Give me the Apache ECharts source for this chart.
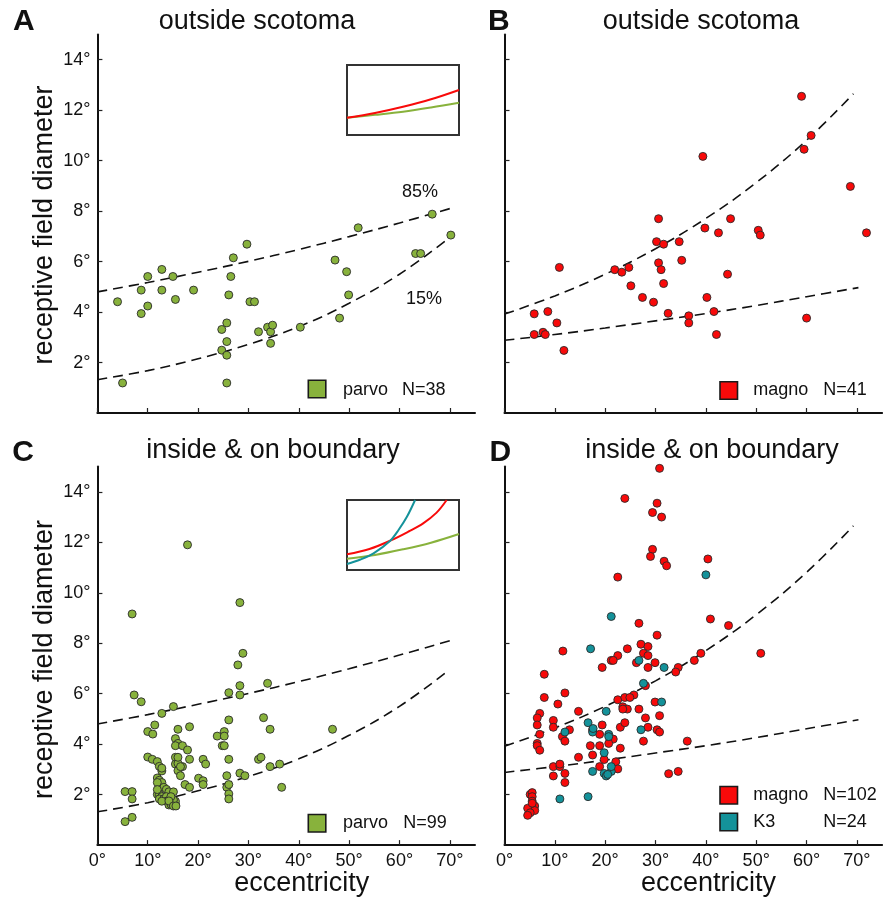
<!DOCTYPE html>
<html>
<head>
<meta charset="utf-8">
<script src="https://cdn.jsdelivr.net/npm/echarts@6/dist/echarts.min.js"></script>
<style>html,body{margin:0;padding:0;background:#fff}#c{width:896px;height:900px}</style>
</head>
<body>
<div id="c"></div>
<script>
// ---------- data ----------
var xTickValues = [0, 10, 20, 30, 40, 50, 60, 70];
var yTickValues = [2, 4, 6, 8, 10, 12, 14];

var parvoOutside = [
 [4.0,4.41],[5.0,1.19],[8.7,4.87],[8.7,3.94],[10.0,5.41],[10.0,4.24],[12.8,5.69],[12.8,4.87],
 [15.0,5.41],[15.5,4.50],[19.1,4.87],[24.7,3.31],[24.7,2.49],[25.7,3.57],[25.7,2.83],[25.7,2.29],
 [25.7,1.19],[26.1,4.68],[26.5,5.41],[27.0,6.15],[29.7,6.69],[30.3,4.41],[31.2,4.41],[32.0,3.22],
 [33.8,3.40],[34.4,3.22],[34.8,3.48],[34.4,2.76],[40.3,3.40],[47.2,6.06],[48.1,3.76],[49.5,5.60],
 [49.9,4.68],[51.8,7.34],[63.2,6.32],[64.2,6.32],[66.5,7.88],[70.2,7.05]
];
var magnoOutside = [
 [5.9,3.93],[5.9,3.11],[7.65,3.20],[8.1,3.11],[8.6,4.02],[10.4,3.57],[10.9,5.77],[11.8,2.48],
 [21.9,5.68],[23.3,5.58],[24.7,5.77],[25.1,5.04],[27.4,4.58],[29.6,4.39],[30.2,6.79],[30.6,7.70],
 [30.6,5.95],[31.1,5.68],[31.6,6.69],[31.6,5.13],[32.5,3.95],[34.7,6.79],[35.2,6.05],[36.6,3.85],
 [36.6,3.57],[39.4,10.17],[39.8,7.33],[40.2,4.58],[41.6,4.02],[42.1,3.11],[42.5,7.14],[44.3,5.50],
 [44.9,7.70],[50.4,7.24],[50.8,7.05],[59.0,12.55],[59.5,10.45],[60.0,3.76],[60.9,11.0],[68.7,8.98],
 [71.9,7.14]
];
var parvoInside = [
 [5.5,2.12],[6.9,2.12],[6.9,1.83],[5.5,0.93],[6.9,1.10],[6.9,9.16],[7.3,5.95],[8.7,5.68],[10.0,4.50],
 [11.0,4.40],[11.4,4.76],[12.8,5.22],[15.1,5.49],[16.0,4.59],[15.5,4.22],[16.0,4.03],[15.5,3.94],
 [16.9,3.94],[17.9,3.77],[18.3,4.69],[17.9,11.90],[15.5,3.48],[15.5,3.21],[16.9,3.11],[16.0,2.95],
 [16.5,2.75],[17.4,2.40],[18.3,2.29],[18.3,3.40],[20.1,2.65],[21.0,2.55],[21.0,2.40],[21.0,3.40],
 [21.5,3.21],[23.8,4.32],[25.2,4.50],[25.2,4.32],[24.8,3.94],[25.2,3.94],[26.1,4.96],[26.1,6.04],
 [26.1,3.40],[25.7,2.75],[25.7,2.29],[26.1,2.40],[26.1,2.03],[26.1,1.83],[28.3,9.61],[28.9,7.60],
 [27.9,7.14],[28.3,6.32],[28.3,5.95],[28.3,2.85],[29.3,2.75],[33.0,5.05],[33.8,6.41],[34.3,4.59],
 [32.0,3.40],[32.5,3.48],[34.3,3.11],[36.2,3.21],[36.6,2.29],[46.7,4.59],
 [10.0,3.49],[10.9,3.40],[11.9,3.31],[12.3,3.12],[12.8,2.94],[11.9,2.66],[12.3,2.57],[12.8,2.48],
 [11.9,2.48],[13.2,2.29],[13.7,2.21],[14.2,2.11],[15.1,2.11],[11.9,2.01],[12.3,2.01],[12.8,1.92],
 [12.3,1.83],[13.2,1.83],[13.7,1.92],[13.7,1.74],[14.2,1.59],[14.6,1.62],[15.1,1.66],[15.5,1.62],
 [15.5,1.74],[15.1,1.79],[16.0,3.24],[16.5,3.11],[12.8,1.74],[14.6,1.92],[16.0,3.48],[12.8,3.05],
 [14.2,1.75],[11.9,2.20],[15.1,1.55],[15.6,1.55]
];
var magnoInside = [
 [30.8,14.93],[23.9,13.74],[30.3,13.55],[29.4,13.18],[31.2,13.0],[29.4,11.72],[29.0,11.44],[31.7,11.25],
 [32.2,11.07],[40.4,11.34],[22.5,10.62],[40.9,8.96],[44.5,8.70],[26.7,8.79],[30.3,8.32],[50.9,7.60],
 [11.6,7.69],[24.4,7.78],[27.1,7.96],[28.5,7.87],[27.6,7.60],[28.5,7.51],[22.5,7.51],[21.2,7.32],
 [21.6,7.32],[26.2,7.23],[29.9,7.23],[19.4,7.04],[28.5,7.04],[34.5,7.04],[34.0,6.86],[37.7,7.32],
 [39.0,7.60],[7.9,6.77],[28.0,6.32],[7.9,5.85],[12.0,6.03],[10.6,5.59],[14.7,5.30],[7.0,5.22],
 [6.5,5.04],[6.5,4.76],[7.0,4.39],[6.5,4.03],[6.5,3.94],[7.0,3.76],[9.7,4.94],[9.7,4.67],
 [11.5,4.30],[12.0,4.12],[12.9,4.57],[9.7,3.11],[11.0,3.11],[11.0,3.21],[9.7,2.74],[12.0,2.84],
 [12.0,2.48],[14.7,3.48],[17.5,4.57],[19.4,4.76],[18.9,4.39],[21.6,4.20],[20.7,4.03],[17.05,3.94],
 [18.9,3.94],[17.5,3.57],[19.8,3.39],[18.9,3.11],[22.1,3.30],[22.5,3.02],[23.0,3.84],[23.0,4.67],
 [23.9,4.85],[22.5,5.76],[23.9,5.85],[23.5,5.48],[24.4,5.39],[23.5,5.39],[25.7,5.95],[26.7,5.39],
 [28.0,5.04],[28.5,4.67],[27.6,4.12],[29.9,5.67],[30.8,5.13],[30.3,4.57],[30.8,4.48],[36.3,4.12],
 [32.6,2.83],[34.5,2.92],[24.9,5.85],
 [5.1,2.01],[5.5,2.08],[5.5,1.92],[5.5,1.74],[6.0,1.55],[4.6,1.46],[6.0,1.37],[5.1,1.28],[4.6,1.18],[5.5,1.66]
];
var k3Inside = [
 [40.0,10.71],[21.2,9.06],[17.1,7.78],[26.7,7.32],[31.7,7.04],[27.6,6.41],[12.0,4.48],[11.0,1.83],
 [16.6,1.92],[16.6,4.85],[17.5,4.48],[20.2,5.30],[20.7,4.39],[20.7,4.30],[19.8,3.66],[17.5,2.92],
 [19.8,2.84],[20.2,2.74],[21.2,2.92],[21.2,3.11],[27.1,4.57],[31.2,5.67],[20.5,2.80],[17.6,4.62]
];

// fitted percentile curves
var parvo85 = [[0,4.8],[10,5.17],[20,5.58],[30,6.01],[40,6.48],[50,6.99],[60,7.53],[70,8.1]];
var parvo15 = [[0,1.32],[10,1.68],[20,2.15],[30,2.72],[40,3.42],[50,4.35],[60,5.5],[69.5,6.88]];
var magno85 = [[0,3.92],[10,4.64],[20,5.50],[30,6.51],[40,7.71],[50,9.13],[60,10.81],[69.3,12.65]];
var magno15 = [[0,2.88],[10,3.11],[20,3.37],[30,3.65],[40,3.94],[50,4.26],[60,4.61],[70.3,4.97]];

// inset curves (normalized)
var insetAParvo = [[0,0.247],[0.25,0.288],[0.5,0.333],[0.75,0.393],[1,0.461]];
var insetAMagno = [[0,0.247],[0.25,0.315],[0.5,0.404],[0.75,0.51],[1,0.643]];
var insetCParvo = [[0,0.162],[0.25,0.215],[0.5,0.295],[0.75,0.39],[1,0.514]];
var insetCMagno = [[0,0.224],[0.2,0.30],[0.386,0.419],[0.55,0.55],[0.68,0.667],[0.8,0.82],[0.89,1.0]];
var insetCK3 = [[0,0.086],[0.12,0.15],[0.237,0.238],[0.386,0.419],[0.46,0.571],[0.535,0.76],[0.608,1.0]];

// ---------- styles ----------
var FF = '"Liberation Sans", Arial, Helvetica, sans-serif';
var GREEN = '#88b23c', RED = '#f80a0a', TEAL = '#14929a', DOTB = '#2a2a2a';

var PW = 377.6, PH = 378.5;
var grids = [
  {left: 97.4, top: 34.5, width: PW, height: PH},
  {left: 504.5, top: 34.5, width: PW, height: PH},
  {left: 97.4, top: 466.6, width: PW, height: PH},
  {left: 504.5, top: 466.6, width: PW, height: PH},
  {left: 347, top: 65, width: 112, height: 70, show: true, borderColor: '#333', borderWidth: 2, backgroundColor: '#fff'},
  {left: 347, top: 500, width: 112, height: 70, show: true, borderColor: '#333', borderWidth: 2, backgroundColor: '#fff'}
];

function xAx(gi, labels) {
  return {gridIndex: gi, type: 'value', min: 0, max: 75,
    axisLine: {lineStyle: {color: '#111', width: 2}},
    axisTick: {inside: true, length: 5, customValues: xTickValues, lineStyle: {color: '#222', width: 1.2}},
    axisLabel: {show: labels, customValues: xTickValues, formatter: function(v){return v + '°';},
      fontSize: 18, color: '#111', margin: 7, fontFamily: FF},
    splitLine: {show: false}};
}
function yAx(gi, labels) {
  return {gridIndex: gi, type: 'value', min: 0, max: 15,
    axisLine: {lineStyle: {color: '#111', width: 2}},
    axisTick: {inside: true, length: 5, customValues: yTickValues, lineStyle: {color: '#222', width: 1.2}},
    axisLabel: {show: labels, customValues: yTickValues, formatter: function(v){return v + '°';},
      fontSize: 18, color: '#111', margin: 7, fontFamily: FF},
    splitLine: {show: false}};
}
function hidAx(gi) {
  return {gridIndex: gi, type: 'value', min: 0, max: 1, show: false};
}
function dots(gi, data, color) {
  return {type: 'scatter', xAxisIndex: gi, yAxisIndex: gi, data: data, symbolSize: 8,
    itemStyle: {color: color, borderColor: DOTB, borderWidth: 0.9, opacity: 1}, z: 3, silent: true};
}
function dashed(gi, data) {
  return {type: 'line', xAxisIndex: gi, yAxisIndex: gi, data: data, smooth: 0.4, showSymbol: false,
    symbol: 'none', lineStyle: {color: '#111', width: 1.6, type: [10, 6]}, z: 2, silent: true};
}
function inset(gi, data, color) {
  return {type: 'line', xAxisIndex: gi, yAxisIndex: gi, data: data, smooth: 0.35, showSymbol: false,
    symbol: 'none', lineStyle: {color: color, width: 2}, z: 4, silent: true};
}

function txt(x, y, s, size, opts) {
  opts = opts || {};
  return {type: 'text', x: x, y: y, rotation: opts.rot || 0, z: 10, silent: true,
    style: {text: s, fontSize: size, fontFamily: FF, fontWeight: opts.bold ? 'bold' : 'normal',
      fill: '#111', align: opts.align || 'center', verticalAlign: 'middle'}};
}
function box(x, y, color) {
  return {type: 'rect', z: 10, silent: true, shape: {x: x, y: y, width: 17.5, height: 17.5},
    style: {fill: color, stroke: '#1a1a1a', lineWidth: 1.6}};
}

var graphic = [
  txt(23.8, 21.5, 'A', 30, {bold: true}),
  txt(498.8, 21.5, 'B', 30, {bold: true}),
  txt(23, 452.5, 'C', 30, {bold: true}),
  txt(500.3, 452.5, 'D', 30, {bold: true}),
  txt(257, 21.5, 'outside scotoma', 27),
  txt(701, 21.5, 'outside scotoma', 27),
  txt(273, 451, 'inside & on boundary', 27),
  txt(712, 451, 'inside & on boundary', 27),
  txt(44.6, 225, 'receptive field diameter', 27, {rot: Math.PI / 2}),
  txt(44.6, 659.5, 'receptive field diameter', 27, {rot: Math.PI / 2}),
  txt(301.7, 884, 'eccentricity', 27),
  txt(708.5, 884, 'eccentricity', 27),
  txt(420, 192, '85%', 18),
  txt(424, 298.8, '15%', 18),
  box(308.3, 380.3, GREEN), txt(343, 390.5, 'parvo', 18, {align: 'left'}), txt(402, 390.5, 'N=38', 18, {align: 'left'}),
  box(720, 381.7, RED), txt(753.3, 390.5, 'magno', 18, {align: 'left'}), txt(823.3, 390.5, 'N=41', 18, {align: 'left'}),
  box(308.3, 814.5, GREEN), txt(343, 823, 'parvo', 18, {align: 'left'}), txt(403.3, 823, 'N=99', 18, {align: 'left'}),
  box(720, 786.5, RED), txt(753.3, 795.4, 'magno', 18, {align: 'left'}), txt(823.3, 795.4, 'N=102', 18, {align: 'left'}),
  box(720, 813.3, TEAL), txt(753.3, 822, 'K3', 18, {align: 'left'}), txt(823.3, 822, 'N=24', 18, {align: 'left'})
];

var option = {
  animation: false,
  backgroundColor: '#fff',
  grid: grids,
  xAxis: [xAx(0, false), xAx(1, false), xAx(2, true), xAx(3, true), hidAx(4), hidAx(5)],
  yAxis: [yAx(0, true), yAx(1, false), yAx(2, true), yAx(3, false), hidAx(4), hidAx(5)],
  series: [
    dashed(0, parvo85), dashed(0, parvo15), dots(0, parvoOutside, GREEN),
    dashed(1, magno85), dashed(1, magno15), dots(1, magnoOutside, RED),
    dashed(2, parvo85), dashed(2, parvo15), dots(2, parvoInside, GREEN),
    dashed(3, magno85), dashed(3, magno15), dots(3, magnoInside, RED), dots(3, k3Inside, TEAL),
    inset(4, insetAParvo, GREEN), inset(4, insetAMagno, RED),
    inset(5, insetCParvo, GREEN), inset(5, insetCMagno, RED), inset(5, insetCK3, TEAL)
  ],
  graphic: graphic
};
var chart = echarts.init(document.getElementById('c'), null, {renderer: 'canvas'});
chart.setOption(option);
</script>
</body>
</html>
